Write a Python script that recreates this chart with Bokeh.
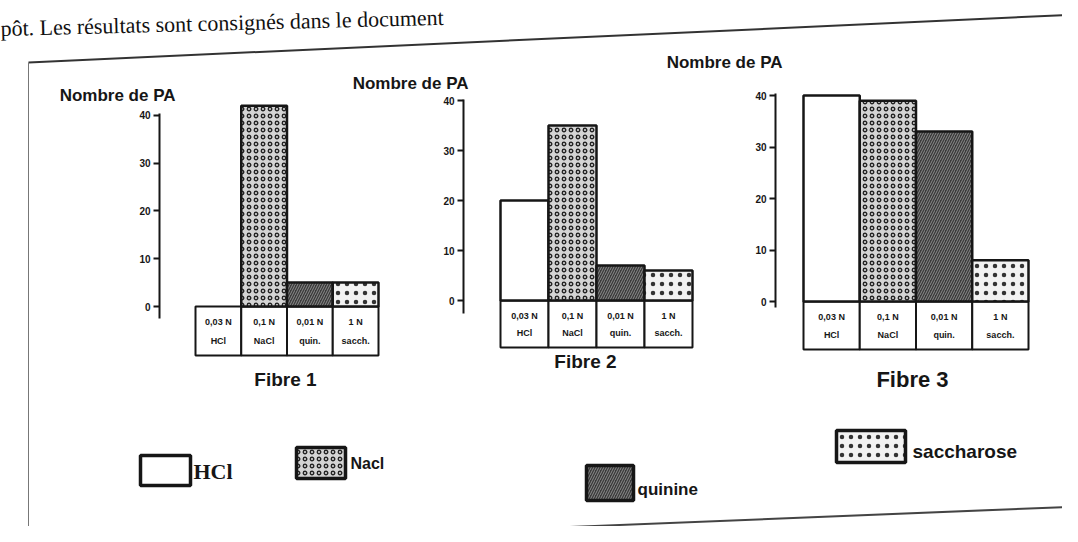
from bokeh.plotting import figure
from bokeh.models import Range1d, LinearAxis, FixedTicker, ColumnDataSource
from bokeh.core.properties import value
from bokeh.embed import file_html
from bokeh.resources import INLINE

# ---------------- data ----------------
substances = ["HCl", "NaCl", "quinine", "saccharose"]
cell_conc = ["0,03 N", "0,1 N", "0,01 N", "1 N"]
cell_name = ["HCl", "NaCl", "quin.", "sacch."]
fibre_names = ["Fibre 1", "Fibre 2", "Fibre 3"]
fibre1 = [0, 42, 5, 5]
fibre2 = [20, 35, 7, 6]
fibre3 = [40, 39, 33, 8]
y_ticks = [0, 10, 20, 30, 40]
legend_labels = ["HCl", "Nacl", "quinine", "saccharose"]
axis_title = "Nombre de PA"
intro_text = "pôt. Les résultats sont consignés dans le document"

# ---------------- layout (picture pixel positions) ----------------
W, H = 1062, 526


def fx(X):
    return X


def fy(Y):
    return H - Y


charts = [
    dict(vals=fibre1, left=195, cw=45.75, zero=306, ppu=4.78, tpx=49, axis=159,
         title=(175, 95), fib=(285, 379), fsize="19px", lo=-2.5),
    dict(vals=fibre2, left=500, cw=48.0, zero=300, ppu=5.0, tpx=47, axis=463,
         title=(468, 83), fib=(585, 361), fsize="19px", lo=-2.5),
    dict(vals=fibre3, left=803, cw=56.25, zero=301, ppu=5.15, tpx=48, axis=775,
         title=(782, 62), fib=(912, 379), fsize="22px", lo=-1.2),
]

styles = [
    dict(fill_color="white"),
    dict(fill_color="#d4d4d4", hatch_pattern="ring", hatch_color="#222222",
         hatch_scale=7, hatch_weight=1.3),
    dict(fill_color="#3a3a3a", hatch_pattern="right_diagonal_line",
         hatch_color="#8c8c8c", hatch_scale=5, hatch_weight=1.0),
    dict(fill_color="#f2f2f2", hatch_pattern="dot", hatch_color="#333333",
         hatch_scale=9, hatch_weight=1.6),
]

INK = "#161616"
SANS = value("Liberation Sans")

p = figure(width=W, height=H, x_range=Range1d(0, W), y_range=Range1d(0, H),
           output_backend="svg", toolbar_location=None,
           x_axis_location=None, y_axis_location=None, min_border=0)
p.grid.visible = False
p.outline_line_color = None
p.background_fill_color = "white"

# frame of the document (scanned, slightly tilted)
p.line([fx(28), fx(1078)], [fy(62), fy(14)], line_color="#333333", line_width=2)
p.line([fx(28), fx(28)], [fy(62), fy(545)], line_color="#777777", line_width=1)
p.line([fx(110), fx(1078)], [fy(545), fy(506)], line_color="#444444", line_width=2)

# intro text of the page (tilted like the scan)
p.text(x=[fx(0)], y=[fy(28)], text=[intro_text], angle=0.025,
       text_font=value("Liberation Serif"), text_font_size="22px",
       text_color="#111111", text_baseline="alphabetic")

for k, c in enumerate(charts):
    rn = f"f{k}"
    x0 = fx(c["left"])
    cw = c["cw"]
    y0 = fy(c["zero"])
    ppu = c["ppu"]
    p.extra_x_ranges[rn] = Range1d(-x0 / cw - 0.5, (W - x0) / cw - 0.5)
    p.extra_y_ranges[rn] = Range1d(-y0 / ppu, (H - y0) / ppu)

    idx = list(range(len(substances)))
    tbot = -c["tpx"] / ppu
    # table cells under the bars
    p.quad(left=[i - 0.5 for i in idx], right=[i + 0.5 for i in idx],
           bottom=[tbot] * len(idx), top=[0] * len(idx),
           x_range_name=rn, y_range_name=rn,
           fill_color="white", line_color=INK, line_width=2)
    p.text(x=idx, y=[tbot * 0.32] * len(idx), text=cell_conc,
           x_range_name=rn, y_range_name=rn, text_align="center",
           text_baseline="middle", text_font=SANS, text_font_style="bold",
           text_font_size="9px", text_color=INK)
    p.text(x=idx, y=[tbot * 0.7] * len(idx), text=cell_name,
           x_range_name=rn, y_range_name=rn, text_align="center",
           text_baseline="middle", text_font=SANS, text_font_style="bold",
           text_font_size="9px", text_color=INK)

    # bars
    for i, s in enumerate(substances):
        v = c["vals"][i]
        if v <= 0:
            continue
        src = ColumnDataSource(dict(x=[i], top=[v], name=[s]))
        p.vbar(x="x", top="top", bottom=0, width=1.0, source=src,
               x_range_name=rn, y_range_name=rn,
               line_color=INK, line_width=2.5, **styles[i])

    # y axis
    ax = LinearAxis(y_range_name=rn, fixed_location=fx(c["axis"]),
                    ticker=FixedTicker(ticks=y_ticks), bounds=(c["lo"], 40.3))
    ax.axis_line_width = 2
    ax.axis_line_color = INK
    ax.major_tick_line_width = 2
    ax.major_tick_line_color = INK
    ax.major_tick_out = 6
    ax.major_tick_in = 0
    ax.minor_tick_out = 0
    ax.minor_tick_in = 0
    ax.major_label_text_font = "Liberation Sans"
    ax.major_label_text_font_style = "bold"
    ax.major_label_text_font_size = "10px"
    ax.major_label_text_color = INK
    ax.major_label_standoff = 3
    p.add_layout(ax, "left")

    # axis title and fibre name
    tx, ty = c["title"]
    p.text(x=[fx(tx)], y=[fy(ty)], text=[axis_title], text_align="right",
           text_baseline="middle", text_font=SANS, text_font_style="bold",
           text_font_size="17px", text_color=INK)
    bx, by = c["fib"]
    p.text(x=[fx(bx)], y=[fy(by)], text=[fibre_names[k]], text_align="center",
           text_baseline="middle", text_font=SANS, text_font_style="bold",
           text_font_size=c["fsize"], text_color=INK)

# legend (scattered as in the original)
leg_boxes = [(140, 455, 190, 485), (296, 447, 345, 478),
             (586, 465, 633, 500), (836, 430, 905, 462)]
leg_text = [(193, 471), (350, 463), (637, 489), (912, 451)]
leg_fonts = [("Liberation Serif", "22px"), ("Liberation Sans", "16px"),
             ("Liberation Sans", "17px"), ("Liberation Sans", "19px")]
for i, lab in enumerate(legend_labels):
    l, t, r, b = leg_boxes[i]
    p.quad(left=[fx(l)], right=[fx(r)], top=[fy(t)], bottom=[fy(b)],
           line_color=INK, line_width=3.5, **styles[i])
    tx, ty = leg_text[i]
    p.text(x=[fx(tx)], y=[fy(ty)], text=[lab], text_align="left",
           text_baseline="middle", text_font=value(leg_fonts[i][0]),
           text_font_style="bold", text_font_size=leg_fonts[i][1],
           text_color=INK)

open("out.html", "w").write(file_html(p, INLINE))
